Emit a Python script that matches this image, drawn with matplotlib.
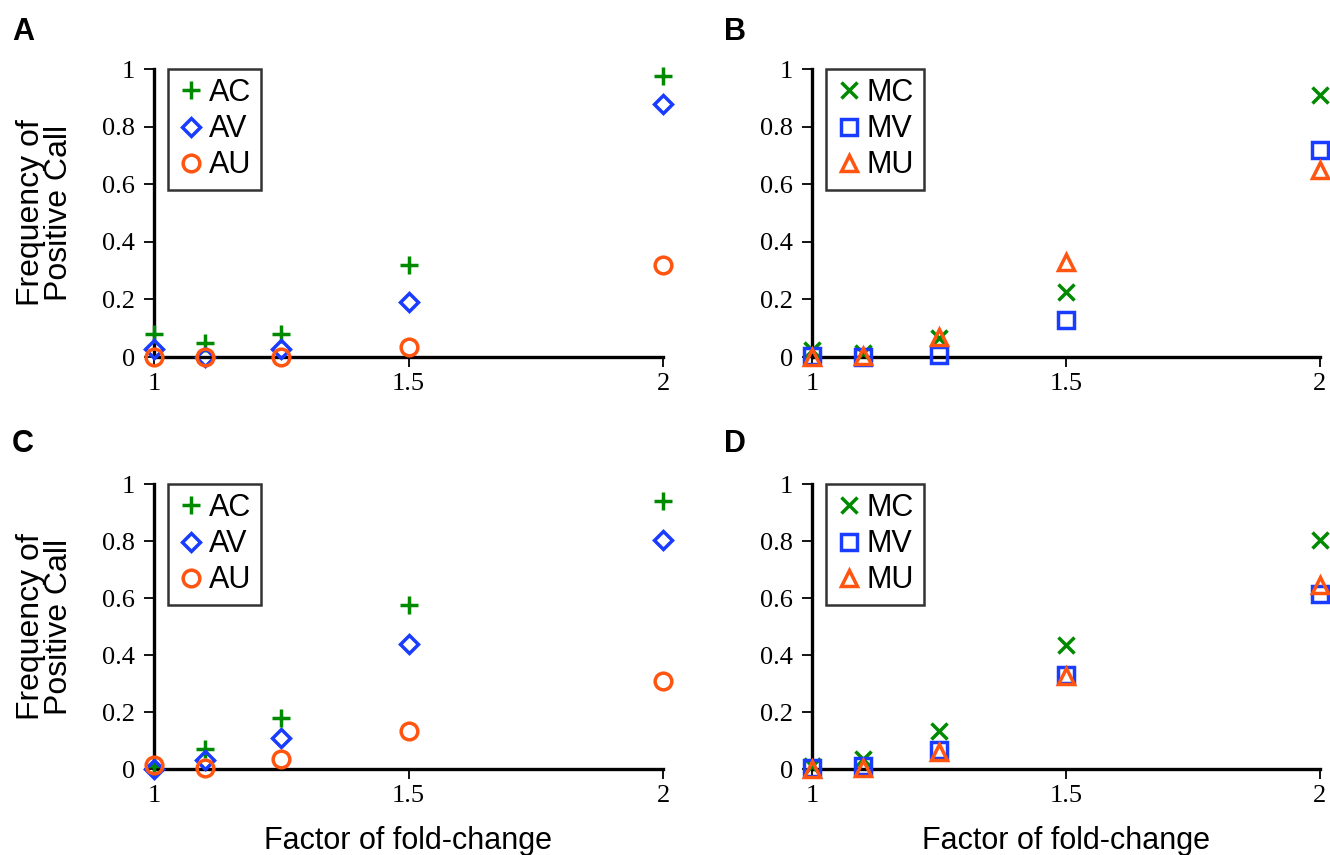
import matplotlib.pyplot as plt
import numpy as np

# fold-change factors shared by all panels
fold = [1, 1.1, 1.25, 1.5, 2]

# panel A / C: AC, AV, AU
a_ac = [0.08, 0.05, 0.08, 0.32, 0.975]
a_av = [0.028, 0.0, 0.028, 0.19, 0.88]
a_au = [0.0, 0.0, 0.0, 0.035, 0.32]

c_ac = [0.01, 0.07, 0.18, 0.575, 0.94]
c_av = [0.0, 0.03, 0.11, 0.44, 0.805]
c_au = [0.015, 0.005, 0.035, 0.135, 0.31]

# panel B / D: MC, MV, MU
b_mc = [0.025, 0.015, 0.065, 0.225, 0.91]
b_mv = [0.005, 0.0, 0.008, 0.13, 0.72]
b_mu = [0.0, 0.005, 0.07, 0.33, 0.65]

d_mc = [0.01, 0.035, 0.135, 0.435, 0.805]
d_mv = [0.005, 0.01, 0.065, 0.33, 0.615]
d_mu = [0.0, 0.005, 0.06, 0.325, 0.645]

GREEN = '#008a00'
BLUE = '#1a3cff'
ORANGE = '#ff5511'

SANS = 'Liberation Sans'
SERIF = 'Liberation Serif'

styles_a = [('AC', '+', GREEN, 13), ('AV', 'D', BLUE, 9.5), ('AU', 'o', ORANGE, 12)]
styles_m = [('MC', 'x', GREEN, 11), ('MV', 's', BLUE, 11), ('MU', '^', ORANGE, 11)]

fig = plt.figure(figsize=(13.3, 8.55), dpi=100)

W, H = 1330, 855
def px_axes(left, right, top, bottom):
    return fig.add_axes([left / W, 1 - bottom / H, (right - left) / W, (bottom - top) / H])

axA = px_axes(154, 663, 69, 357)
axB = px_axes(812, 1320, 69, 357)
axC = px_axes(154, 663, 484, 769)
axD = px_axes(812, 1320, 484, 769)

panels = [
    (axA, styles_a, [a_ac, a_av, a_au]),
    (axB, styles_m, [b_mc, b_mv, b_mu]),
    (axC, styles_a, [c_ac, c_av, c_au]),
    (axD, styles_m, [d_mc, d_mv, d_mu]),
]

for ax, styles, series in panels:
    for (lab, mk, col, ms), vals in zip(styles, series):
        ax.plot(fold, vals, linestyle='none', marker=mk, markersize=ms,
                markerfacecolor='none', markeredgecolor=col, markeredgewidth=2.5,
                label=lab, clip_on=False, zorder=3)
    ax.set_xlim(1, 2)
    ax.set_ylim(0, 1)
    ax.set_xticks([1, 1.5, 2])
    ax.set_xticklabels(['1', '1.5', '2'])
    ax.set_yticks([0, 0.2, 0.4, 0.6, 0.8, 1])
    ax.set_yticklabels(['0', '0.2', '0.4', '0.6', '0.8', '1'])
    for s in ['top', 'right']:
        ax.spines[s].set_visible(False)
    for s in ['left', 'bottom']:
        ax.spines[s].set_linewidth(2.4)
        ax.spines[s].set_zorder(2)
    ax.tick_params(direction='out', length=7.5, width=1.3, labelsize=19)
    ax.tick_params(axis='y', pad=6)
    ax.tick_params(axis='x', pad=4)
    for t in ax.get_xticklabels() + ax.get_yticklabels():
        t.set_fontfamily(SERIF)
    leg = ax.legend(loc='upper left', bbox_to_anchor=(0.027, 1.0), borderaxespad=0,
                    frameon=True, fancybox=False, prop={'family': SANS, 'size': 22},
                    handlelength=0.9, handletextpad=0.15, labelspacing=0.2,
                    borderpad=0.3, numpoints=1)
    leg.get_frame().set_edgecolor('black')
    leg.get_frame().set_linewidth(1.8)

for ax in [axC, axD]:
    ax.set_xlabel('Factor of fold-change', fontfamily=SANS, fontsize=22, labelpad=14)

for top, bottom in [(69, 357), (484, 769)]:
    fig.text(45 / W, 1 - (top + bottom) / 2 / H, 'Frequency of\nPositive Call',
             rotation=90, ha='center', va='center', fontfamily=SANS, fontsize=23,
             linespacing=0.95)

for lab, x, y in [('A', 12, 17), ('B', 724, 17), ('C', 12, 429), ('D', 724, 429)]:
    fig.text(x / W, 1 - y / H, lab, ha='left', va='top', fontfamily=SANS,
             fontsize=22, fontweight='bold')

fig.savefig('out.png', dpi=100)
